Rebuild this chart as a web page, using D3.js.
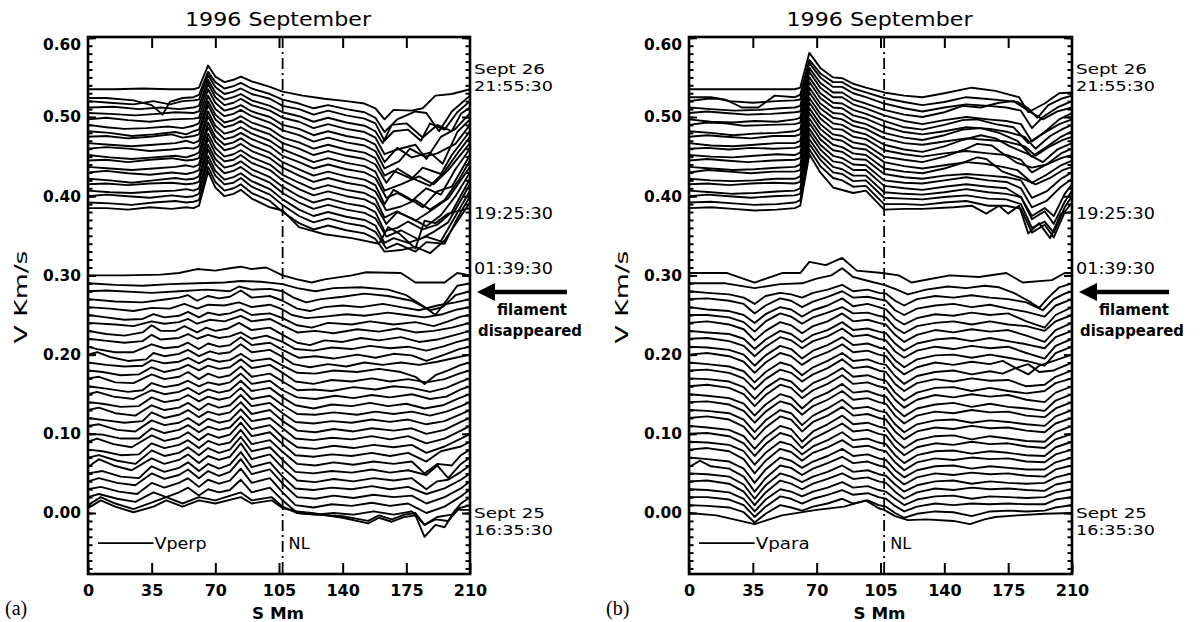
<!DOCTYPE html>
<html><head><meta charset="utf-8">
<script src="https://cdn.jsdelivr.net/npm/d3@7/dist/d3.min.js"></script>
<style>body{margin:0;background:#fff}svg{display:block}</style>
</head><body>
<svg id="chart" width="1200" height="622"></svg>
<script>
// ---------------- DATA (velocities in thousandths of Km/s) ----------------
const xTicks = [0, 35, 70, 105, 140, 175, 210];
const yMajor = [0.00, 0.10, 0.20, 0.30, 0.40, 0.50, 0.60];
const nlPosition = 107;
const title = "1996 September";

// stacking offsets (each profile is drawn shifted by its offset)
const offsetsAlow = [300,290,280,270,260,250,240,230,220,210,200,190,180,170,160,150,140,130,120,110,100,90,80,70,60,50,40,30,20,10,0];
const offsetsAup  = [535,527,520,512,505,497,490,482,475,467,460,452,445,437,430,422,415,407,400,392,385];
const offsetsBlow = [300,290,280,270,260,250,240,230,220,210,200,190,180,170,160,150,140,130,120,110,100,90,80,70,60,50,40,30,20,10,0];
const offsetsBup  = [535,527,520,512,505,497,490,482,475,467,460,452,445,437,430,422,415,407,400,392,385];

// profiles: [S(Mm), dV, S, dV, ...]
const profilesAlow = [
[0,0, 20,0, 40,1, 50,3, 60,8, 70,6, 78,9, 84,11, 90,8, 98,10, 107,0, 115,-5, 123,-9, 130,-5, 145,0, 153,4, 172,3, 180,-9, 196,-9, 203,3, 210,0],
[0,0, 15,-2, 30,-3, 45,-1, 60,0, 75,1, 84,3, 95,2, 107,-1, 115,-6, 125,-10, 135,-6, 150,-5, 165,-8, 175,-15, 185,-30, 191,-40, 196,-25, 203,-3, 210,0],
[0,0, 10,1, 35,-2, 50,0, 65,2, 78,0, 83,6, 90,2, 100,3, 107,0, 113,-8, 120,-14, 128,-10, 140,-7, 152,-3, 165,-6, 178,-12, 188,-24, 195,-20, 202,-5, 210,0],
[0,0, 15,-3, 30,-4, 40,-1, 50,2, 55,5, 60,-2, 66,4, 72,1, 78,3, 84,11, 90,2, 100,4, 107,-2, 115,-12, 122,-15, 130,-10, 140,-8, 150,-10, 162,-6, 172,-10, 182,-14, 192,-8, 202,-4, 210,0],
[0,0, 12,-2, 25,-5, 35,-1, 45,-2, 53,4, 60,-2, 66,3, 75,2, 83,6, 90,0, 100,3, 107,-3, 112,-10, 120,-14, 130,-12, 142,-9, 152,-11, 165,-7, 175,-10, 185,-13, 195,-9, 203,-3, 210,0],
[0,0, 10,-3, 20,-6, 30,-5, 36,1, 42,-3, 50,-1, 55,4, 61,-3, 66,3, 72,0, 78,2, 84,7, 90,0, 100,2, 107,-4, 115,-13, 123,-16, 132,-10, 145,-12, 155,-8, 168,-12, 180,-9, 190,-14, 198,-8, 205,-2, 210,0],
[0,0, 15,-2, 25,-4, 35,2, 42,-1, 50,1, 55,5, 60,-1, 67,4, 75,2, 84,9, 90,2, 100,5, 107,-3, 115,-12, 125,-10, 135,-13, 148,-8, 160,-11, 170,-7, 180,-12, 190,-10, 200,-6, 210,0],
[0,0, 10,-4, 20,-6, 30,-2, 35,7, 40,0, 48,0, 53,6, 60,-2, 65,4, 70,0, 77,3, 83,10, 90,1, 100,4, 107,-5, 115,-15, 122,-18, 130,-12, 140,-14, 150,-9, 160,-12, 172,-8, 182,-14, 192,-11, 202,-5, 210,0],
[0,0, 8,-2, 20,-5, 30,-3, 35,5, 40,-1, 50,1, 55,6, 60,0, 66,5, 72,1, 78,3, 84,8, 90,0, 98,4, 107,-4, 114,-13, 124,-15, 134,-11, 145,-13, 155,-9, 166,-12, 176,-10, 186,-15, 195,-10, 203,-4, 210,0],
[0,0, 5,-3, 15,-7, 25,-7, 35,3, 42,-2, 50,0, 55,5, 61,-3, 66,4, 72,0, 78,2, 84,12, 90,2, 100,5, 107,-4, 116,-14, 125,-12, 135,-15, 148,-10, 158,-14, 168,-9, 178,-11, 186,-18, 196,-10, 204,-3, 210,0],
[0,0, 5,3, 12,-3, 22,-8, 32,-6, 36,2, 42,-2, 50,1, 55,6, 61,-2, 67,4, 72,1, 78,3, 84,13, 90,3, 100,6, 107,-3, 113,-12, 122,-16, 132,-12, 142,-15, 152,-10, 162,-13, 172,-10, 182,-13, 192,-9, 202,-4, 210,0],
[0,0, 10,-3, 20,-5, 30,-4, 35,3, 42,-1, 50,1, 55,6, 61,-1, 66,5, 72,1, 78,3, 84,11, 90,2, 100,5, 107,-4, 115,-13, 125,-14, 135,-10, 148,-12, 160,-8, 172,-12, 180,-18, 185,-27, 191,-16, 198,-10, 205,-3, 210,0],
[0,0, 8,-2, 18,-6, 28,-5, 35,4, 42,-2, 50,2, 55,7, 61,0, 66,6, 72,2, 78,4, 84,14, 90,3, 100,7, 107,-3, 114,-14, 124,-17, 134,-12, 145,-14, 156,-10, 166,-14, 176,-11, 186,-15, 196,-11, 204,-4, 210,0],
[0,0, 6,2, 15,-5, 25,-6, 35,5, 42,-1, 50,2, 55,8, 61,-1, 66,6, 72,1, 78,4, 84,15, 90,2, 100,6, 107,-4, 115,-15, 124,-14, 134,-16, 146,-11, 158,-14, 168,-10, 178,-12, 188,-17, 197,-12, 205,-4, 210,0],
[0,0, 10,-3, 22,-7, 30,-5, 35,4, 42,-1, 50,2, 55,7, 61,0, 66,5, 72,2, 78,5, 84,16, 90,3, 100,7, 107,-5, 115,-14, 125,-16, 136,-12, 146,-15, 156,-11, 166,-14, 178,-10, 188,-16, 197,-13, 205,-4, 210,0],
[0,0, 5,3, 14,-3, 25,-6, 35,5, 42,0, 50,3, 55,8, 61,0, 66,6, 72,2, 78,5, 84,17, 90,4, 100,8, 107,-4, 114,-14, 124,-18, 134,-13, 145,-15, 155,-11, 165,-15, 175,-12, 185,-18, 195,-14, 204,-5, 210,0],
[0,0, 8,-2, 18,-6, 28,-5, 35,6, 42,0, 50,3, 55,9, 61,1, 66,7, 72,3, 78,6, 84,18, 90,4, 100,8, 107,-4, 115,-15, 125,-16, 135,-13, 148,-16, 158,-12, 168,-15, 178,-12, 188,-17, 197,-12, 205,-5, 210,0],
[0,0, 6,3, 15,-4, 26,-7, 35,6, 42,0, 50,3, 55,9, 61,0, 66,8, 72,3, 78,6, 84,19, 90,5, 100,9, 107,-4, 114,-15, 124,-17, 134,-14, 145,-16, 156,-12, 166,-15, 176,-12, 186,-18, 196,-14, 204,-6, 210,0],
[0,0, 10,-3, 20,-6, 30,-4, 35,7, 42,0, 50,4, 55,10, 61,1, 66,8, 72,4, 78,7, 84,20, 90,5, 100,10, 107,-4, 115,-16, 125,-18, 135,-14, 146,-17, 156,-13, 168,-16, 178,-13, 186,-20, 196,-15, 205,-5, 210,0],
[0,0, 6,2, 16,-5, 26,-7, 35,7, 42,1, 50,4, 55,10, 61,1, 66,9, 72,4, 78,7, 84,21, 90,6, 100,10, 107,-3, 114,-16, 124,-18, 134,-15, 145,-17, 156,-13, 166,-17, 176,-13, 186,-22, 196,-16, 205,-6, 210,0],
[0,0, 8,-1, 18,-6, 28,-6, 35,7, 42,1, 50,5, 55,11, 61,2, 66,9, 72,5, 78,8, 84,22, 90,6, 100,11, 107,-4, 115,-17, 125,-19, 135,-15, 146,-18, 157,-14, 168,-17, 178,-14, 186,-24, 196,-16, 205,-6, 210,0],
[0,0, 5,4, 14,-3, 24,-7, 35,8, 42,1, 50,5, 55,12, 61,2, 66,10, 72,5, 78,9, 84,24, 90,7, 100,12, 107,-3, 114,-17, 124,-19, 134,-16, 145,-18, 156,-14, 166,-18, 176,-14, 186,-25, 194,-12, 205,-6, 210,0],
[0,0, 8,-2, 18,-7, 28,-6, 35,8, 42,2, 50,6, 55,12, 61,2, 66,11, 72,6, 78,9, 84,25, 90,7, 100,12, 107,-3, 115,-18, 125,-20, 135,-16, 146,-19, 157,-15, 168,-18, 178,-15, 185,-30, 192,-18, 200,-20, 205,-7, 210,0],
[0,0, 6,3, 16,-4, 26,-8, 35,9, 42,2, 50,6, 55,13, 61,3, 66,12, 72,6, 78,10, 84,26, 90,8, 100,13, 107,-3, 114,-18, 124,-20, 134,-17, 145,-19, 156,-15, 166,-19, 176,-16, 186,-22, 192,-10, 198,-26, 205,-8, 210,0],
[0,-2, 6,8, 14,0, 24,-6, 35,9, 42,2, 50,7, 55,14, 61,3, 66,12, 72,7, 78,11, 84,28, 90,8, 100,14, 107,-3, 115,-19, 125,-21, 135,-17, 146,-20, 157,-16, 168,-19, 178,-16, 186,-30, 192,-20, 198,-18, 205,-8, 210,0],
[0,0, 8,3, 18,-4, 28,-6, 35,9, 42,2, 50,7, 55,14, 61,3, 66,12, 72,6, 78,11, 84,27, 90,8, 100,14, 107,-4, 114,-19, 124,-21, 134,-18, 145,-20, 156,-16, 166,-20, 176,-17, 186,-26, 196,-19, 205,-8, 210,0],
[0,0, 6,4, 16,-2, 26,-5, 35,10, 42,3, 50,8, 55,15, 61,4, 66,13, 72,7, 78,12, 84,28, 90,9, 100,15, 107,-3, 115,-20, 125,-22, 135,-18, 146,-21, 157,-17, 168,-20, 178,-18, 186,-28, 196,-20, 205,-9, 210,0],
[0,0, 7,3, 17,-3, 27,-6, 35,8, 42,2, 50,8, 55,14, 61,3, 66,12, 72,7, 78,11, 84,26, 90,8, 100,14, 107,-4, 114,-20, 124,-23, 134,-19, 145,-21, 156,-17, 166,-21, 176,-18, 186,-30, 196,-22, 205,-9, 210,0],
[0,0, 6,4, 16,-2, 26,-6, 36,6, 43,0, 50,6, 55,12, 61,2, 66,10, 72,6, 78,9, 84,22, 90,6, 100,12, 107,-4, 115,-20, 125,-22, 135,-20, 146,-22, 157,-18, 168,-22, 178,-18, 185,-35, 192,-25, 200,-22, 205,-8, 210,0],
[0,0, 7,10, 15,2, 25,-5, 36,4, 43,10, 52,2, 61,10, 70,6, 84,16, 90,6, 101,10, 107,-2, 115,-10, 125,-12, 140,-14, 154,-20, 160,-13, 167,-18, 174,-12, 180,-10, 185,-25, 191,-18, 198,-20, 204,-4, 210,0],
[0,6, 7,16, 15,8, 25,1, 36,8, 43,16, 52,8, 61,16, 70,12, 84,20, 90,12, 101,16, 107,6, 115,2, 123,0, 140,-6, 154,-13, 160,-6, 167,-11, 174,-5, 180,-3, 185,-30, 191,-15, 196,-18, 202,4, 210,4]
];

const profilesAup = [
[0,0, 15,0, 30,1, 45,0, 58,0, 61,2, 66,30, 70,16, 75,9, 80,12, 84,16, 90,10, 100,3, 107,-3, 118,-8, 130,-12, 142,-15, 152,-18, 158,-24, 163,-38, 168,-26, 178,-27, 184,-24, 191,-8, 200,-6, 210,0],
[0,-3, 10,-3, 25,-6, 35,-12, 41,-24, 45,-8, 52,-3, 58,-2, 61,1, 66,30, 70,17, 75,9, 80,12, 84,16, 90,9, 100,2, 107,-5, 116,-10, 124,-16, 132,-12, 142,-17, 152,-21, 158,-28, 163,-46, 170,-30, 180,-20, 186,-22, 193,-45, 200,-20, 210,0],
[0,0, 12,-2, 25,-4, 36,0, 45,-4, 52,0, 58,1, 61,2, 66,33, 70,18, 75,9, 80,12, 84,16, 90,9, 100,3, 107,-6, 116,-10, 124,-17, 132,-12, 142,-18, 152,-22, 158,-28, 163,-50, 168,-38, 176,-36, 183,-50, 188,-28, 196,-36, 203,-14, 210,0],
[0,0, 14,1, 28,-2, 40,0, 50,-2, 58,0, 61,2, 66,35, 70,19, 75,10, 80,13, 84,17, 90,9, 100,2, 107,-6, 116,-11, 124,-18, 132,-13, 142,-19, 152,-23, 158,-30, 162,-45, 167,-22, 175,-20, 184,-38, 192,-22, 200,-30, 205,-8, 210,0],
[0,0, 12,-1, 26,-3, 38,-1, 48,1, 58,0, 61,2, 66,37, 70,20, 75,10, 80,13, 84,18, 90,10, 100,3, 107,-6, 116,-11, 124,-19, 132,-14, 142,-20, 152,-24, 158,-31, 163,-52, 170,-46, 180,-40, 186,-58, 194,-30, 202,-20, 210,0],
[0,0, 10,2, 22,-1, 34,-3, 46,0, 58,1, 61,2, 66,38, 70,21, 75,11, 80,14, 84,18, 90,10, 100,3, 107,-7, 116,-12, 124,-20, 132,-15, 142,-21, 152,-25, 158,-32, 163,-54, 170,-36, 178,-48, 188,-42, 195,-56, 203,-16, 210,0],
[0,0, 10,-3, 20,-5, 32,-4, 44,-2, 52,-4, 58,-1, 61,2, 66,37, 70,20, 75,11, 80,14, 84,19, 90,11, 100,3, 107,-7, 116,-13, 124,-21, 132,-16, 142,-22, 152,-26, 158,-33, 163,-55, 171,-46, 177,-30, 185,-40, 192,-36, 202,-24, 210,0],
[0,0, 12,-2, 24,-6, 36,-4, 48,-1, 54,-4, 58,0, 61,2, 66,38, 70,21, 75,11, 80,14, 84,19, 90,11, 100,3, 107,-8, 116,-14, 124,-22, 132,-17, 142,-23, 152,-27, 158,-34, 163,-56, 168,-50, 178,-60, 184,-46, 194,-54, 200,-30, 210,0],
[0,0, 10,1, 22,-2, 34,0, 46,3, 52,-1, 58,1, 61,3, 66,40, 70,22, 75,12, 80,15, 84,20, 90,11, 100,3, 107,-8, 116,-15, 124,-23, 132,-18, 142,-24, 152,-28, 158,-35, 164,-58, 170,-40, 180,-54, 188,-62, 196,-44, 204,-18, 210,0],
[0,0, 12,-2, 24,-4, 36,-2, 48,0, 54,3, 58,0, 61,3, 66,40, 70,22, 75,12, 80,15, 84,20, 90,12, 100,3, 107,-8, 116,-16, 124,-24, 132,-19, 142,-25, 152,-29, 158,-36, 163,-60, 172,-52, 182,-42, 190,-52, 198,-34, 210,0],
[0,0, 10,2, 22,0, 34,-3, 46,-1, 54,1, 58,0, 61,3, 66,41, 70,23, 75,12, 80,15, 84,20, 90,12, 100,3, 107,-9, 116,-17, 124,-25, 132,-20, 142,-26, 152,-30, 158,-37, 164,-62, 170,-56, 178,-66, 186,-50, 194,-58, 202,-26, 210,0],
[0,0, 12,-3, 24,-5, 36,-3, 48,-1, 54,-3, 58,0, 61,3, 66,41, 70,23, 75,13, 80,16, 84,21, 90,12, 100,3, 107,-9, 116,-18, 124,-26, 132,-21, 142,-27, 152,-31, 158,-38, 163,-62, 168,-44, 176,-54, 184,-66, 192,-46, 200,-40, 210,0],
[0,0, 10,1, 22,-2, 34,1, 46,3, 54,0, 58,1, 61,3, 66,42, 70,24, 75,13, 80,16, 84,21, 90,12, 100,3, 107,-9, 116,-19, 124,-27, 132,-22, 142,-28, 152,-32, 158,-39, 164,-63, 172,-58, 180,-50, 188,-62, 196,-50, 204,-24, 210,0],
[0,0, 12,-2, 24,-4, 36,-2, 48,0, 54,2, 58,0, 61,3, 66,42, 70,24, 75,13, 80,16, 84,21, 90,12, 100,3, 107,-10, 116,-20, 124,-28, 132,-23, 142,-29, 152,-33, 158,-40, 163,-64, 170,-56, 180,-68, 188,-56, 198,-40, 210,0],
[0,0, 10,2, 22,-1, 34,-3, 46,0, 54,-2, 58,0, 61,3, 66,43, 70,24, 75,14, 80,16, 84,22, 90,12, 100,3, 107,-10, 116,-21, 124,-29, 132,-24, 142,-30, 152,-34, 158,-41, 164,-65, 170,-50, 178,-58, 186,-68, 194,-54, 202,-30, 210,0],
[0,0, 12,-2, 24,-5, 36,-2, 48,1, 54,-1, 58,0, 61,3, 66,43, 70,25, 75,14, 80,17, 84,22, 90,12, 100,2, 107,-10, 116,-22, 124,-30, 132,-25, 142,-31, 152,-35, 158,-42, 163,-66, 170,-62, 176,-54, 184,-64, 192,-58, 200,-42, 210,0],
[0,0, 10,1, 22,-1, 34,1, 46,2, 54,0, 58,1, 61,3, 66,44, 70,25, 75,14, 80,17, 84,22, 90,12, 100,2, 107,-11, 116,-23, 124,-31, 132,-26, 142,-32, 152,-36, 158,-43, 164,-66, 172,-58, 182,-70, 190,-60, 198,-48, 210,0],
[0,0, 12,-2, 24,-3, 36,-1, 48,0, 54,2, 58,0, 61,3, 66,44, 70,25, 75,14, 80,17, 84,22, 90,12, 100,2, 107,-11, 116,-24, 124,-32, 132,-27, 142,-33, 152,-37, 158,-44, 163,-66, 168,-60, 176,-66, 186,-58, 194,-64, 202,-32, 210,0],
[0,0, 10,2, 22,0, 34,-2, 46,1, 54,-1, 58,0, 61,3, 66,45, 70,26, 75,15, 80,17, 84,23, 90,12, 100,2, 107,-11, 116,-25, 124,-33, 132,-28, 142,-34, 152,-38, 158,-45, 164,-66, 170,-60, 180,-70, 186,-58, 196,-60, 203,-28, 210,0],
[0,0, 12,-1, 24,-3, 36,0, 48,2, 54,0, 58,1, 61,3, 66,45, 70,26, 75,15, 80,18, 84,23, 90,12, 100,2, 107,-12, 116,-26, 124,-34, 132,-29, 142,-35, 152,-39, 158,-46, 163,-62, 172,-60, 180,-56, 188,-64, 196,-48, 210,0],
[0,0, 10,0, 22,-2, 34,1, 46,-1, 54,1, 58,0, 61,3, 66,46, 70,26, 75,15, 80,18, 84,23, 90,12, 100,1, 107,-3, 116,-24, 130,-33, 145,-38, 160,-45, 165,-24, 171,-32, 180,-51, 185,-16, 191,-19, 198,-7, 210,0]
];

const profilesBlow = [
[0,3, 21,3, 36,-9, 51,3, 61,3, 66,17, 75,13, 84,22, 92,6, 106,3, 115,0, 122,-9, 143,0, 159,-2, 174,3, 183,-9, 199,-6, 206,3, 210,3],
[0,0, 20,0, 36,-6, 50,-1, 62,0, 70,6, 78,10, 84,19, 90,8, 100,2, 107,-2, 114,-8, 120,-14, 130,-8, 142,-4, 152,-6, 162,-3, 170,-5, 178,-12, 186,-22, 192,-31, 197,-18, 203,-5, 210,0],
[0,0, 10,-2, 22,-4, 30,-8, 36,-16, 42,-6, 50,-2, 56,-4, 62,-8, 68,-2, 76,2, 84,8, 90,0, 98,2, 104,-2, 108,-3, 113,-12, 118,-18, 125,-10, 135,-6, 145,-8, 155,-5, 165,-8, 175,-10, 185,-14, 194,-24, 200,-10, 206,-3, 210,0],
[0,0, 10,1, 22,-2, 30,-6, 36,-18, 42,-8, 50,1, 56,-2, 62,-10, 68,-3, 76,3, 84,10, 90,2, 98,3, 104,0, 108,-2, 113,-14, 118,-20, 125,-12, 135,-8, 145,-6, 155,-10, 165,-7, 175,-12, 185,-16, 195,-22, 201,-8, 210,0],
[0,0, 10,-3, 22,-5, 30,-10, 36,-20, 42,-9, 50,0, 56,-3, 62,-12, 68,-4, 76,2, 84,11, 90,1, 98,4, 104,0, 108,-3, 113,-15, 118,-22, 125,-14, 135,-9, 145,-11, 155,-7, 165,-10, 175,-8, 185,-18, 195,-26, 201,-10, 210,0],
[0,0, 10,0, 22,-3, 30,-9, 36,-21, 42,-8, 50,2, 56,-2, 62,-11, 68,-3, 76,3, 84,10, 90,2, 98,3, 104,-1, 108,-3, 113,-16, 118,-23, 125,-14, 135,-10, 145,-8, 155,-12, 165,-8, 175,-12, 185,-14, 195,-20, 201,-8, 210,0],
[0,0, 10,2, 22,-2, 30,-8, 36,-22, 42,-10, 50,1, 56,-3, 62,-13, 68,-4, 76,2, 84,12, 90,2, 98,4, 104,0, 108,-2, 113,-15, 118,-24, 125,-15, 135,-9, 145,-12, 155,-8, 165,-11, 175,-9, 185,-16, 195,-24, 201,-9, 210,0],
[0,0, 10,-2, 22,-4, 30,-10, 36,-23, 42,-11, 50,0, 56,-4, 62,-14, 68,-5, 76,1, 84,11, 90,1, 98,3, 104,-1, 108,-3, 113,-16, 118,-25, 125,-16, 135,-11, 145,-9, 155,-13, 165,-9, 175,-13, 185,-17, 195,-22, 201,-8, 210,0],
[0,0, 10,1, 22,-3, 30,-9, 36,-22, 42,-10, 50,2, 56,-2, 62,-12, 68,-3, 76,3, 84,13, 90,3, 98,5, 104,0, 108,-2, 113,-16, 118,-24, 125,-15, 135,-10, 145,-13, 155,-9, 165,-12, 175,-10, 185,-18, 195,-25, 201,-9, 210,0],
[0,0, 10,-1, 22,-4, 30,-10, 36,-24, 42,-11, 50,1, 56,-3, 62,-15, 68,-5, 76,2, 84,12, 90,2, 98,4, 104,-1, 108,-3, 113,-17, 118,-26, 125,-16, 135,-11, 145,-10, 155,-14, 165,-10, 175,-14, 185,-18, 195,-24, 201,-8, 210,0],
[0,0, 10,2, 22,-2, 30,-9, 36,-23, 42,-10, 50,2, 56,-2, 62,-13, 68,-4, 76,3, 84,13, 90,3, 98,5, 104,0, 108,-2, 113,-16, 118,-25, 125,-16, 135,-10, 145,-13, 155,-9, 165,-12, 172,-8, 180,-18, 186,-25, 192,-14, 200,-8, 210,0],
[0,0, 10,-2, 22,-5, 30,-11, 36,-25, 42,-12, 50,0, 56,-4, 62,-16, 68,-6, 76,2, 84,12, 90,2, 98,4, 104,-1, 108,-3, 113,-17, 118,-27, 125,-17, 135,-12, 145,-10, 155,-15, 165,-11, 172,-14, 178,-8, 186,-2, 192,-12, 200,-10, 210,0],
[0,0, 10,1, 22,-3, 30,-10, 36,-24, 42,-11, 50,1, 56,-3, 62,-14, 68,-5, 76,3, 84,14, 90,3, 98,5, 104,0, 108,-2, 113,-17, 118,-26, 125,-16, 135,-11, 145,-14, 155,-10, 165,-13, 175,-12, 185,-20, 195,-18, 201,-8, 210,0],
[0,0, 10,-1, 22,-4, 30,-11, 36,-26, 42,-12, 50,0, 56,-4, 62,-17, 68,-6, 76,2, 84,13, 90,2, 98,4, 104,-1, 108,-3, 113,-18, 118,-28, 125,-18, 135,-12, 145,-11, 155,-16, 165,-12, 175,-16, 185,-19, 195,-16, 201,-6, 210,0],
[0,0, 10,2, 22,-2, 30,-10, 36,-25, 42,-11, 50,2, 56,-2, 62,-15, 68,-5, 76,3, 84,14, 90,3, 98,5, 104,0, 108,-2, 113,-17, 118,-27, 125,-17, 135,-11, 145,-14, 155,-10, 165,-13, 175,-11, 185,-17, 195,-20, 201,-8, 210,0],
[0,0, 10,-2, 22,-5, 30,-12, 36,-27, 42,-13, 50,0, 56,-4, 62,-18, 68,-6, 76,2, 84,13, 90,2, 98,4, 104,-1, 108,-3, 113,-18, 118,-28, 125,-18, 135,-13, 145,-11, 155,-16, 165,-12, 175,-16, 185,-18, 195,-21, 201,-8, 210,0],
[0,0, 10,1, 22,-3, 30,-11, 36,-26, 42,-12, 50,1, 56,-3, 62,-16, 68,-5, 76,3, 84,14, 90,3, 98,5, 104,0, 108,-2, 113,-17, 118,-27, 125,-17, 135,-12, 145,-14, 155,-10, 165,-13, 175,-12, 185,-17, 195,-19, 201,-8, 210,0],
[0,0, 10,-1, 22,-4, 30,-12, 36,-28, 42,-13, 50,0, 56,-4, 62,-19, 68,-7, 76,2, 84,13, 90,2, 98,4, 104,-1, 108,-3, 113,-18, 118,-28, 125,-18, 135,-13, 145,-12, 155,-16, 165,-13, 175,-15, 185,-18, 195,-20, 201,-8, 210,0],
[0,0, 10,2, 22,-2, 30,-11, 36,-27, 42,-12, 50,2, 56,-2, 62,-17, 68,-5, 76,3, 84,14, 90,3, 98,5, 104,0, 108,-2, 113,-17, 118,-27, 125,-17, 135,-12, 145,-14, 155,-10, 165,-13, 175,-12, 185,-16, 195,-18, 201,-7, 210,0],
[0,0, 10,-2, 22,-5, 30,-13, 36,-29, 42,-14, 50,0, 56,-4, 62,-20, 68,-7, 76,2, 84,13, 90,2, 98,4, 104,-1, 108,-3, 113,-18, 118,-28, 125,-18, 135,-13, 145,-12, 155,-17, 165,-13, 175,-16, 185,-19, 195,-20, 201,-8, 210,0],
[0,0, 10,1, 22,-3, 30,-12, 36,-28, 42,-13, 50,1, 56,-3, 62,-18, 68,-6, 76,3, 84,13, 90,3, 98,5, 104,0, 108,-2, 113,-17, 118,-27, 125,-17, 135,-12, 145,-14, 155,-10, 165,-13, 175,-12, 185,-16, 195,-18, 201,-7, 210,0],
[0,0, 10,-1, 22,-4, 30,-12, 36,-29, 42,-14, 50,0, 56,-4, 62,-16, 68,-6, 76,2, 84,12, 90,2, 98,4, 104,-1, 108,-3, 113,-17, 118,-27, 125,-17, 135,-12, 145,-11, 155,-15, 165,-12, 175,-14, 185,-17, 195,-18, 201,-7, 210,0],
[0,0, 10,2, 22,-2, 30,-12, 36,-30, 42,-14, 50,1, 56,-3, 62,-14, 68,-4, 76,3, 84,12, 90,3, 98,5, 104,0, 108,-2, 113,-16, 118,-26, 125,-16, 135,-11, 145,-13, 155,-10, 165,-12, 175,-11, 185,-15, 195,-16, 201,-6, 210,0],
[0,0, 10,-2, 22,-5, 30,-14, 36,-32, 42,-15, 50,0, 56,-4, 62,-13, 68,-5, 76,2, 84,11, 90,2, 98,4, 104,-1, 108,-3, 113,-16, 118,-25, 125,-16, 135,-11, 145,-10, 155,-14, 165,-11, 175,-13, 185,-15, 195,-15, 201,-6, 210,0],
[0,-2, 6,6, 12,-1, 22,-4, 30,-14, 36,-33, 42,-16, 50,0, 56,-3, 62,-12, 68,-4, 76,3, 84,11, 90,3, 98,5, 104,0, 108,-2, 113,-15, 118,-24, 125,-15, 135,-10, 145,-12, 155,-9, 165,-11, 175,-10, 185,-13, 195,-14, 201,-5, 210,0],
[0,0, 10,-1, 22,-4, 30,-14, 36,-32, 42,-15, 50,0, 56,-4, 62,-11, 68,-4, 76,2, 84,10, 90,2, 98,4, 104,-1, 108,-3, 113,-14, 118,-23, 125,-15, 135,-10, 145,-9, 155,-13, 165,-10, 175,-12, 185,-13, 195,-12, 201,-5, 210,0],
[0,0, 10,1, 22,-3, 30,-13, 36,-30, 42,-14, 50,1, 56,-3, 62,-10, 68,-3, 76,3, 84,10, 90,3, 98,5, 104,0, 108,-2, 113,-13, 118,-22, 125,-14, 135,-9, 145,-11, 155,-8, 165,-10, 175,-9, 185,-11, 195,-12, 201,-4, 210,0],
[0,0, 10,-1, 22,-4, 30,-12, 36,-28, 42,-13, 50,0, 56,-3, 62,-9, 68,-3, 76,2, 84,9, 90,2, 98,4, 104,-1, 108,-3, 113,-12, 118,-20, 125,-13, 135,-9, 145,-8, 155,-12, 165,-9, 175,-10, 185,-11, 195,-10, 201,-4, 210,0],
[0,0, 10,0, 22,-3, 30,-10, 36,-25, 42,-12, 50,1, 56,-2, 62,-8, 68,-2, 76,3, 84,9, 90,3, 98,5, 104,0, 108,-2, 113,-11, 118,-18, 125,-12, 135,-8, 145,-10, 155,-8, 165,-9, 175,-8, 185,-9, 195,-9, 201,-3, 210,0],
[0,0, 10,-1, 22,-3, 30,-9, 36,-22, 42,-11, 50,0, 56,-3, 62,-7, 68,-2, 76,2, 84,8, 90,2, 98,6, 104,0, 108,-2, 113,-10, 118,-16, 125,-11, 135,-8, 145,-9, 155,-14, 165,-8, 175,-7, 185,-8, 195,-7, 201,-3, 210,0],
[0,0, 15,-3, 36,-14, 51,-3, 70,4, 85,8, 97,16, 104,6, 107,4, 113,-4, 120,-9, 130,-8, 145,-10, 154,-14, 162,-8, 168,-5, 180,-3, 195,-1, 210,0]
];

const profilesBup = [
[0,0, 20,0, 35,0, 50,0, 58,0, 61,2, 66,46, 72,27, 79,15, 84,14, 90,7, 97,2, 107,-4, 118,-8, 128,-10, 140,-5, 155,2, 168,-2, 181,-10, 186,-29, 195,-18, 203,-5, 210,-4],
[0,-2, 12,-2, 20,-5, 29,-15, 38,-15, 47,0, 58,-2, 61,1, 66,45, 72,28, 79,17, 84,17, 90,9, 97,4, 107,-3, 118,-8, 128,-12, 140,-8, 152,-2, 162,-4, 172,-6, 180,-8, 186,-16, 191,-28, 197,-12, 204,-4, 210,0],
[0,0, 10,3, 16,3, 22,0, 35,-2, 48,0, 58,1, 61,2, 66,48, 72,30, 79,18, 84,18, 90,10, 97,5, 107,-3, 118,-9, 128,-13, 140,-8, 152,-4, 164,-6, 174,-8, 182,-12, 188,-34, 194,-20, 202,-8, 210,0],
[0,0, 12,-2, 25,-4, 38,-3, 50,-1, 58,0, 61,2, 66,50, 72,31, 79,19, 84,19, 90,10, 97,5, 107,-3, 118,-9, 128,-12, 140,-6, 150,2, 160,0, 170,6, 178,8, 186,-4, 194,-15, 202,-5, 210,0],
[0,0, 10,2, 20,0, 32,-2, 45,-1, 58,1, 61,2, 66,52, 72,32, 79,20, 84,20, 90,11, 97,6, 107,-3, 118,-10, 128,-14, 140,-9, 152,-5, 164,-8, 174,-10, 182,-14, 188,-36, 195,-24, 203,-8, 210,0],
[0,0, 12,-3, 24,-4, 36,-2, 48,-3, 58,0, 61,2, 66,53, 72,33, 79,21, 84,20, 90,12, 97,7, 107,-2, 118,-10, 128,-13, 140,-7, 150,-1, 158,0, 168,-6, 178,-10, 186,-30, 194,-18, 203,-6, 210,0],
[0,0, 10,3, 20,2, 30,-1, 44,0, 58,1, 61,3, 66,54, 72,34, 79,22, 84,21, 90,12, 97,8, 107,-2, 118,-9, 128,-12, 140,-8, 152,-3, 165,-5, 175,-9, 184,-15, 190,-30, 198,-14, 205,-5, 210,0],
[0,0, 12,-2, 24,-5, 36,-3, 48,-2, 58,0, 61,3, 66,55, 72,35, 79,23, 84,22, 90,13, 97,9, 107,-2, 118,-8, 128,-11, 140,-5, 150,2, 160,4, 170,-2, 180,-12, 188,-32, 196,-20, 204,-7, 210,0],
[0,0, 10,2, 20,0, 34,-2, 46,1, 58,1, 61,3, 66,56, 72,36, 79,24, 84,22, 90,14, 97,10, 107,-2, 118,-8, 128,-10, 140,-6, 152,-2, 164,-4, 174,-6, 184,-12, 190,-24, 198,-12, 205,-4, 210,0],
[0,0, 12,-3, 24,-4, 36,-2, 48,0, 58,0, 61,3, 66,57, 72,37, 79,25, 84,23, 90,15, 97,11, 107,-2, 118,-8, 128,-11, 140,-4, 150,4, 160,10, 168,6, 176,-4, 186,-14, 194,-24, 202,-8, 210,0],
[0,0, 10,1, 22,-1, 34,1, 46,0, 58,1, 61,3, 66,58, 72,38, 79,25, 84,24, 90,15, 97,12, 107,-2, 118,-7, 128,-10, 140,-6, 152,-3, 164,-6, 174,-8, 182,-14, 188,-30, 196,-20, 204,-6, 210,0],
[0,0, 12,-2, 24,-3, 36,-1, 48,1, 58,0, 61,3, 66,59, 72,39, 79,26, 84,24, 90,16, 97,13, 107,-2, 118,-6, 128,-9, 140,-2, 150,6, 158,14, 166,12, 172,2, 180,-10, 188,-16, 196,-12, 204,-4, 210,0],
[0,0, 10,2, 20,0, 32,-2, 46,0, 58,1, 61,3, 66,60, 72,40, 79,27, 84,25, 90,16, 97,14, 107,-2, 118,-7, 128,-10, 140,-6, 152,-2, 162,-4, 172,-8, 180,-12, 188,-28, 196,-18, 204,-6, 210,0],
[0,0, 12,-2, 24,-4, 36,-3, 48,-1, 58,0, 61,3, 66,61, 72,41, 79,28, 84,25, 90,17, 97,15, 107,-2, 118,-6, 128,-8, 140,-2, 150,5, 158,12, 163,10, 172,-6, 182,-14, 190,-22, 198,-14, 205,-4, 210,0],
[0,0, 10,3, 22,1, 34,-1, 46,1, 58,1, 61,3, 66,62, 72,42, 79,28, 84,26, 90,17, 97,16, 107,-2, 118,-6, 128,-8, 140,-4, 152,-2, 164,-4, 174,-6, 182,-10, 188,-32, 196,-24, 204,-8, 210,0],
[0,0, 12,-2, 24,-3, 36,-2, 48,0, 58,0, 61,3, 66,63, 72,43, 79,29, 84,26, 90,18, 97,17, 107,-2, 118,-5, 128,-6, 140,-2, 152,2, 164,-2, 174,-4, 182,-12, 188,-36, 196,-28, 204,-10, 210,0],
[0,0, 10,1, 22,-1, 34,1, 46,2, 58,1, 61,3, 66,64, 72,44, 79,29, 84,27, 90,18, 97,18, 107,-2, 118,-5, 128,-7, 140,-3, 152,0, 164,-3, 174,-5, 182,-16, 188,-40, 195,-30, 200,-40, 206,-12, 210,0],
[0,0, 12,-2, 24,-4, 36,-3, 48,-1, 58,0, 61,3, 66,65, 72,45, 79,30, 84,27, 90,19, 97,19, 107,-2, 118,-4, 128,-5, 140,-2, 152,2, 164,-2, 174,-4, 182,-8, 188,-36, 195,-26, 200,-42, 206,-14, 210,0],
[0,0, 10,2, 22,0, 34,-2, 46,0, 58,1, 61,3, 66,66, 72,46, 79,30, 84,28, 90,19, 97,20, 107,-2, 118,-3, 128,-4, 140,-1, 152,1, 164,-3, 174,-4, 182,-10, 188,-40, 195,-32, 200,-46, 206,-14, 210,0],
[0,0, 12,1, 24,-1, 36,-3, 48,-2, 58,0, 61,3, 66,67, 72,46, 79,31, 84,28, 90,20, 97,21, 107,-2, 118,-2, 128,-3, 140,0, 152,2, 164,-4, 174,-4, 182,-8, 188,-38, 195,-28, 200,-44, 206,-12, 210,0],
[0,0, 12,1, 24,-1, 36,-3, 48,-2, 58,0, 61,3, 66,68, 72,45, 79,26, 90,19, 97,22, 107,-2, 118,-1, 128,-1, 145,1, 155,3, 163,-7, 170,3, 175,-7, 181,3, 186,-32, 192,-19, 198,-38, 204,-7, 210,-5]
];

const timeLabels = {top1: "Sept 26", top2: "21:55:30", upLow: "19:25:30", lowTop: "01:39:30", bot1: "Sept 25", bot2: "16:35:30"};

// ---------------- DRAWING ----------------
const svg = d3.select('#chart');
const FONT = "'DejaVu Sans', sans-serif";
const TOP = 37, BOTTOM = 574;

function drawPanel(p) {
  const x = d3.scaleLinear().domain([0, 210]).range([p.left, p.right]);
  const y = d3.scaleLinear().domain([-0.077, 0.601]).range([BOTTOM, TOP]);
  const g = svg.append('g');

  // NL dash-dot
  g.append('line').attr('x1', x(nlPosition)).attr('x2', x(nlPosition))
    .attr('y1', TOP).attr('y2', BOTTOM).attr('stroke', '#000')
    .attr('stroke-width', 1.8).attr('stroke-dasharray', '11,4,2,4');

  // data lines
  const line = d3.line().x(d => x(d[0])).y(d => y(d[1]));
  p.groups.forEach(([offs, profs]) => {
    profs.forEach((pr, i) => {
      const pts = [];
      for (let k = 0; k < pr.length; k += 2) pts.push([pr[k], (offs[i] + pr[k + 1]) / 1000]);
      g.append('path').attr('d', line(pts)).attr('fill', 'none')
        .attr('stroke', '#000').attr('stroke-width', 1.9).attr('stroke-linejoin', 'round');
    });
  });

  // minor y ticks
  const minor = d3.range(-7, 61).map(v => v / 100);
  g.append('g').attr('transform', `translate(${p.left},0)`)
    .call(d3.axisLeft(y).tickValues(minor).tickSizeInner(-4.5).tickSizeOuter(0).tickFormat(''))
    .call(a => a.select('.domain').remove());
  g.append('g').attr('transform', `translate(${p.right},0)`)
    .call(d3.axisRight(y).tickValues(minor).tickSizeInner(-4.5).tickSizeOuter(0).tickFormat(''))
    .call(a => a.select('.domain').remove());
  // major y ticks and labels
  const ya = g.append('g').attr('transform', `translate(${p.left},0)`)
    .call(d3.axisLeft(y).tickValues(yMajor).tickSizeInner(-8).tickSizeOuter(0).tickPadding(7).tickFormat(d3.format('.2f')))
    .call(a => a.select('.domain').remove());
  ya.selectAll('text').attr('font-family', FONT).attr('font-size', 15.5).attr('font-weight', 'bold')
    .attr('textLength', 38).attr('lengthAdjust', 'spacingAndGlyphs')
    .attr('transform', d => d === 0.6 ? 'translate(0,7)' : null);
  g.append('g').attr('transform', `translate(${p.right},0)`)
    .call(d3.axisRight(y).tickValues(yMajor).tickSizeInner(-8).tickSizeOuter(0).tickFormat(''))
    .call(a => a.select('.domain').remove());

  // x ticks
  const xa = g.append('g').attr('transform', `translate(0,${BOTTOM})`)
    .call(d3.axisBottom(x).tickValues(xTicks).tickSizeInner(-11).tickSizeOuter(0).tickPadding(11).tickFormat(d3.format('d')))
    .call(a => a.select('.domain').remove());
  xa.selectAll('text').attr('font-family', FONT).attr('font-size', 16).attr('font-weight', 'bold');
  g.append('g').attr('transform', `translate(0,${TOP})`)
    .call(d3.axisTop(x).tickValues(xTicks.slice(1, -1)).tickSizeInner(-11).tickSizeOuter(0).tickFormat(''))
    .call(a => a.select('.domain').remove());
  g.selectAll('.tick line').attr('stroke', '#000').attr('stroke-width', 2);

  // frame
  g.append('rect').attr('x', p.left).attr('y', TOP).attr('width', p.right - p.left).attr('height', BOTTOM - TOP)
    .attr('fill', 'none').attr('stroke', '#000').attr('stroke-width', 2.6);

  // title
  g.append('text').attr('x', (p.left + p.right) / 2 - 1).attr('y', 26).attr('text-anchor', 'middle')
    .attr('font-family', FONT).attr('font-size', 19).attr('textLength', 186).attr('lengthAdjust', 'spacingAndGlyphs')
    .text(title);
  // axis titles
  g.append('text').attr('x', (p.left + p.right) / 2 - 1).attr('y', 619).attr('text-anchor', 'middle')
    .attr('font-family', FONT).attr('font-size', 16).attr('font-weight', 'bold').attr('textLength', 52)
    .attr('lengthAdjust', 'spacingAndGlyphs').text('S Mm');
  g.append('text').attr('transform', `translate(${p.left - 61},297) rotate(-90)`).attr('text-anchor', 'middle')
    .attr('font-family', FONT).attr('font-size', 17).attr('textLength', 93).attr('lengthAdjust', 'spacingAndGlyphs')
    .text('V Km/s');
  // panel letter
  g.append('text').attr('x', p.left - 83).attr('y', 615).attr('font-family', "'Liberation Serif', serif")
    .attr('font-size', 20).text(p.letter);

  // legend
  g.append('line').attr('x1', x(5.5)).attr('x2', x(36)).attr('y1', y(-0.038)).attr('y2', y(-0.038))
    .attr('stroke', '#000').attr('stroke-width', 1.8);
  g.append('text').attr('x', x(36) + 1).attr('y', y(-0.038) + 6).attr('font-family', FONT).attr('font-size', 16)
    .attr('textLength', p.legendW).attr('lengthAdjust', 'spacingAndGlyphs').text(p.legend);
  g.append('text').attr('x', x(nlPosition) + 6).attr('y', y(-0.038) + 6).attr('font-family', FONT).attr('font-size', 15)
    .attr('textLength', 21).attr('lengthAdjust', 'spacingAndGlyphs').text('NL');

  // right-hand labels
  const rx = p.right + 4;
  const rl = (txt, yy, w, fs) => g.append('text').attr('x', rx).attr('y', yy).attr('font-family', FONT)
    .attr('font-size', fs || 15).attr('textLength', w).attr('lengthAdjust', 'spacingAndGlyphs').text(txt);
  rl(timeLabels.top1, 74, 71, 13.5);
  rl(timeLabels.top2, 91, 79, 13.5);
  rl(timeLabels.upLow, 219, 79);
  rl(timeLabels.lowTop, 274, 79);
  rl(timeLabels.bot1, 518, 71, 13.5);
  rl(timeLabels.bot2, 535, 79, 13.5);

  // arrow
  g.append('line').attr('x1', p.right + 20).attr('x2', p.right + 97).attr('y1', 292).attr('y2', 292)
    .attr('stroke', '#000').attr('stroke-width', 4.5);
  g.append('path').attr('d', `M${p.right + 7},292 L${p.right + 25},283 L${p.right + 25},301 Z`).attr('fill', '#000');
  g.append('text').attr('x', p.right + 62).attr('y', 315).attr('text-anchor', 'middle').attr('font-family', FONT)
    .attr('font-size', 15).attr('font-weight', 'bold').attr('textLength', 70).attr('lengthAdjust', 'spacingAndGlyphs').text('filament');
  g.append('text').attr('x', p.right + 60).attr('y', 336).attr('text-anchor', 'middle').attr('font-family', FONT)
    .attr('font-size', 15).attr('font-weight', 'bold').attr('textLength', 104).attr('lengthAdjust', 'spacingAndGlyphs').text('disappeared');
}

drawPanel({left: 88, right: 470, letter: '(a)', legend: 'Vperp', legendW: 52,
  groups: [[offsetsAlow, profilesAlow], [offsetsAup, profilesAup]]});
drawPanel({left: 689, right: 1072, letter: '(b)', legend: 'Vpara', legendW: 54,
  groups: [[offsetsBlow, profilesBlow], [offsetsBup, profilesBup]]});
</script>
</body></html>
